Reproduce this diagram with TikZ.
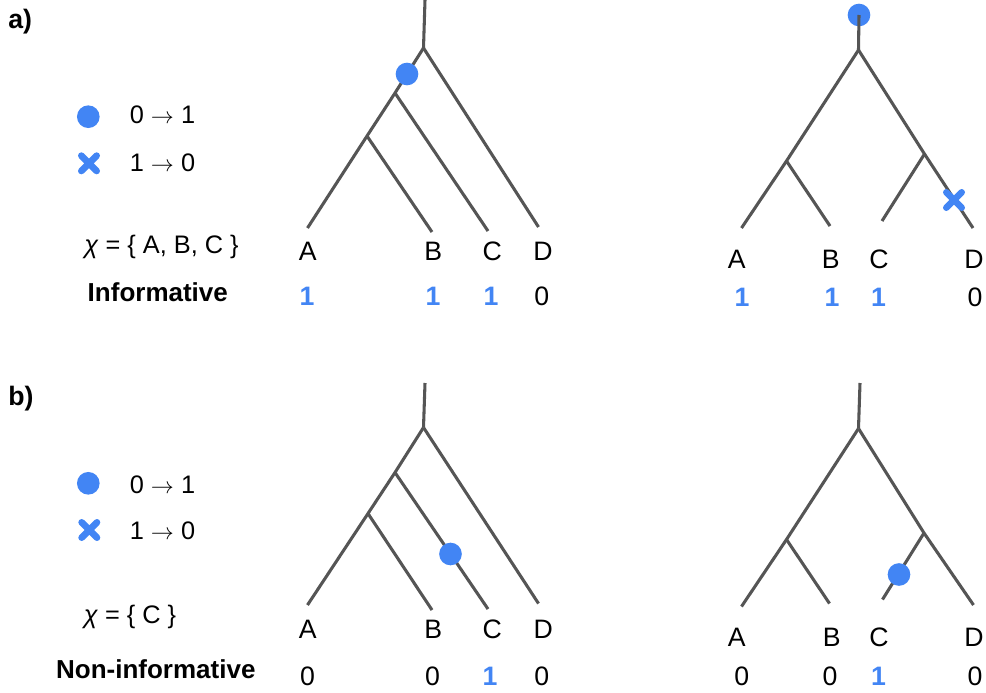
\documentclass[tikz,border=0pt]{standalone}
\usepackage{fontspec}
\setmainfont{Liberation Sans}
\usetikzlibrary{shapes.misc}
\definecolor{gainblue}{RGB}{66,133,244}
\definecolor{branchgray}{RGB}{85,85,85}

\begin{document}
\begin{tikzpicture}[
    x=0.75pt, y=-0.75pt,
    branch/.style={draw=branchgray, line width=2.3pt},
    gain/.style={circle, fill=gainblue, inner sep=0pt, minimum size=17pt},
    loss/.style={cross out, draw=gainblue, line width=5pt, line cap=round, inner sep=0pt, minimum size=6.5pt},
    taxon/.style={anchor=base, inner sep=0pt, font=\fontsize{20}{24}\selectfont},
    charzero/.style={taxon},
    charone/.style={taxon, text=gainblue, font=\fontsize{20}{24}\selectfont\bfseries},
    legend/.style={anchor=base, inner sep=0pt, font=\fontsize{19}{23}\selectfont},
    verdict/.style={anchor=base, inner sep=0pt, font=\fontsize{19.5}{23}\selectfont\bfseries},
    panel/.style={anchor=base west, inner sep=0pt, font=\fontsize{20}{24}\selectfont\bfseries}
]
\useasboundingbox (0,0) rectangle (986,693);

% ---- panel a: legend
\node[panel] (pa) at (8,28) {a)};
\node[gain] (aleggain) at (88.3,116.7) {};
\node[legend] (alegone) at (162.5,123) {0 $\rightarrow$ 1};
\node[loss] (alegloss) at (89,163.3) {};
\node[legend] (alegzero) at (162.5,171.5) {1 $\rightarrow$ 0};
\node[legend] (achi) at (161.5,253) {\textit{χ} = \{ A, B, C \}};
\node[verdict] (ainfo) at (157.8,301) {Informative};

% ---- panel a: left tree
\coordinate (a1top) at (425,0);
\coordinate (a1root) at (423.5,48);
\coordinate (a1abc) at (395,93);
\coordinate (a1ab) at (367,136);
\coordinate (a1A) at (307.5,228);
\coordinate (a1B) at (432,232);
\coordinate (a1C) at (488,231);
\coordinate (a1D) at (538.5,227);
\draw[branch] (a1top) -- (a1root);
\draw[branch] (a1root) -- (a1abc) -- (a1ab) -- (a1A);
\draw[branch] (a1ab) -- (a1B);
\draw[branch] (a1abc) -- (a1C);
\draw[branch] (a1root) -- (a1D);
\node[gain] (a1gain) at (407,74) {};

\node[taxon] (a1lA) at (307.8,260) {A};
\node[taxon] (a1lB) at (433.3,260) {B};
\node[taxon] (a1lC) at (492.3,260) {C};
\node[taxon] (a1lD) at (543,260) {D};
\node[charone] (a1vA) at (307,305) {1};
\node[charone] (a1vB) at (433,305) {1};
\node[charone] (a1vC) at (491,305) {1};
\node[charzero] (a1vD) at (541.7,305) {0};

% ---- panel a: right tree
\node[gain] (a2gain) at (859,15) {};
\coordinate (a2root) at (858.5,50);
\coordinate (a2ab) at (786.5,161);
\coordinate (a2cd) at (924.5,154);
\coordinate (a2A) at (741.5,228);
\coordinate (a2B) at (830,226);
\coordinate (a2C) at (882,221);
\coordinate (a2D) at (973,228);
\draw[branch] (a2gain.center) -- (a2root);
\draw[branch] (a2root) -- (a2ab) -- (a2A);
\draw[branch] (a2ab) -- (a2B);
\draw[branch] (a2root) -- (a2cd) -- (a2D);
\draw[branch] (a2cd) -- (a2C);
\node[loss] (a2loss) at (954,200) {};

\node[taxon] (a2lA) at (736.7,268) {A};
\node[taxon] (a2lB) at (830.7,268) {B};
\node[taxon] (a2lC) at (879,268) {C};
\node[taxon] (a2lD) at (974,268) {D};
\node[charone] (a2vA) at (742,306.5) {1};
\node[charone] (a2vB) at (832,306.5) {1};
\node[charone] (a2vC) at (878.5,306.5) {1};
\node[charzero] (a2vD) at (975,306.5) {0};

% ---- panel b: legend
\node[panel] (pb) at (8,405) {b)};
\node[gain] (bleggain) at (88.3,483.3) {};
\node[legend] (blegone) at (162.5,493) {0 $\rightarrow$ 1};
\node[loss] (blegloss) at (89.3,530) {};
\node[legend] (blegzero) at (162.5,539.5) {1 $\rightarrow$ 0};
\node[legend] (bchi) at (130,623) {\textit{χ} = \{ C \}};
\node[verdict] (binfo) at (155.8,678) {Non-informative};

% ---- panel b: left tree
\coordinate (b1top) at (425,383);
\coordinate (b1root) at (423.5,427.5);
\coordinate (b1abc) at (395,472.5);
\coordinate (b1ab) at (368,513.5);
\coordinate (b1A) at (307.5,605);
\coordinate (b1B) at (432,610);
\coordinate (b1C) at (488,609);
\coordinate (b1D) at (538.5,603.5);
\draw[branch] (b1top) -- (b1root);
\draw[branch] (b1root) -- (b1abc) -- (b1ab) -- (b1A);
\draw[branch] (b1ab) -- (b1B);
\draw[branch] (b1abc) -- (b1C);
\draw[branch] (b1root) -- (b1D);
\node[gain] (b1gain) at (450.5,554) {};

\node[taxon] (b1lA) at (307.8,638) {A};
\node[taxon] (b1lB) at (433.3,638) {B};
\node[taxon] (b1lC) at (492.3,638) {C};
\node[taxon] (b1lD) at (543.3,638) {D};
\node[charzero] (b1vA) at (307.5,685) {0};
\node[charzero] (b1vB) at (432.5,685) {0};
\node[charone] (b1vC) at (490,685) {1};
\node[charzero] (b1vD) at (541.7,685) {0};

% ---- panel b: right tree
\coordinate (b2top) at (860,383);
\coordinate (b2root) at (858.5,428.5);
\coordinate (b2ab) at (786.5,539.5);
\coordinate (b2cd) at (924,533);
\coordinate (b2A) at (741.5,606.5);
\coordinate (b2B) at (829.5,603.5);
\coordinate (b2C) at (882.5,599.5);
\coordinate (b2D) at (973.5,605);
\draw[branch] (b2top) -- (b2root);
\draw[branch] (b2root) -- (b2ab) -- (b2A);
\draw[branch] (b2ab) -- (b2B);
\draw[branch] (b2root) -- (b2cd) -- (b2D);
\draw[branch] (b2cd) -- (b2C);
\node[gain] (b2gain) at (899,574.5) {};

\node[taxon] (b2lA) at (736.7,646.5) {A};
\node[taxon] (b2lB) at (831.7,646.5) {B};
\node[taxon] (b2lC) at (879,646.5) {C};
\node[taxon] (b2lD) at (974,646.5) {D};
\node[charzero] (b2vA) at (741.7,685) {0};
\node[charzero] (b2vB) at (830,685) {0};
\node[charone] (b2vC) at (878.5,685) {1};
\node[charzero] (b2vD) at (975,685) {0};

\end{tikzpicture}
\end{document}
